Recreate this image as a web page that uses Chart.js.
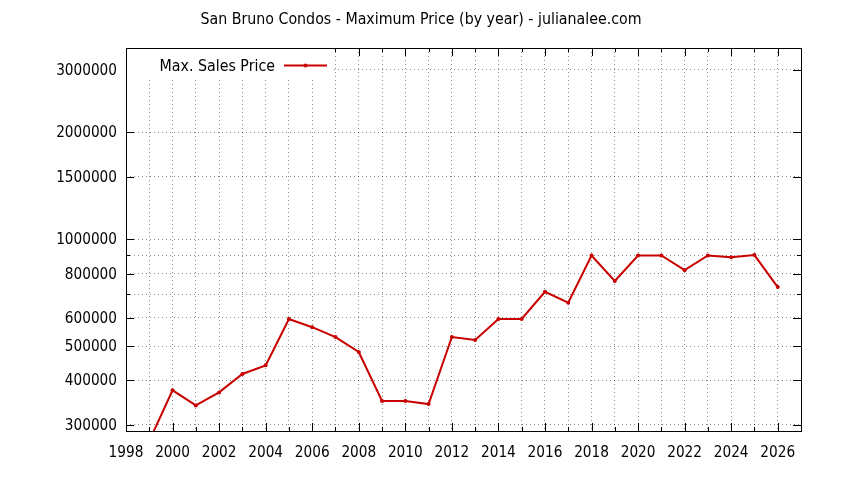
<!DOCTYPE html>
<html>
<head>
<meta charset="utf-8">
<title>San Bruno Condos - Maximum Price</title>
<script src="https://cdn.jsdelivr.net/npm/chart.js@4/dist/chart.umd.min.js"></script>
<style>
  html, body { margin: 0; padding: 0; background: #fff; }
  #wrap { width: 844px; height: 480px; position: relative; }
</style>
</head>
<body>
<div id="wrap"><canvas id="priceChart"></canvas></div>
<script>
// values
var years = [1999, 2000, 2001, 2002, 2003, 2004, 2005, 2006, 2007, 2008, 2009, 2010, 2011, 2012,
             2013, 2014, 2015, 2016, 2017, 2018, 2019, 2020, 2021, 2022, 2023, 2024, 2025, 2026];
var maxPrices = [270000, 375000, 340000, 370000, 417000, 441000, 596000, 565000, 530000, 481000,
                 350000, 350000, 343000, 530000, 520000, 596000, 596000, 711000, 662000, 900000,
                 763000, 900000, 900000, 818000, 900000, 890000, 902000, 733000];
var yTickValues = [300000, 400000, 500000, 600000, 700000, 800000, 900000, 1000000, 1500000, 2000000, 3000000];
var yTickLabels = ["300000", "400000", "500000", "600000", "", "800000", "", "1000000", "1500000", "2000000", "3000000"];

var chartTitle = "San Bruno Condos - Maximum Price (by year) - julianalee.com";
var seriesLabel = "Max. Sales Price";
var lineColor = "#c80000";
var fontName = "'DejaVu Sans Condensed', 'DejaVu Sans', sans-serif";
var tickSize = 15.2;
var textSize = 15.8;

Chart.defaults.font.family = fontName;
Chart.defaults.font.size = tickSize;
Chart.defaults.color = "#000";

// gnuplot style: frame, inward ticks, title and key inside the plot
var gnuplotLook = {
    id: "gnuplotLook",
    beforeDatasetsDraw: function (chart) {
        var ctx = chart.ctx;
        var a = chart.chartArea;
        var xs = chart.scales.x, ys = chart.scales.y;
        ctx.save();
        ctx.strokeStyle = "#000";
        ctx.lineWidth = 1;
        ctx.beginPath();
        xs.ticks.forEach(function (t) {
            var px = Math.round(xs.getPixelForValue(t.value)) + 0.5;
            var len = t.value % 2 === 0 ? 8 : 4;
            ctx.moveTo(px, a.bottom); ctx.lineTo(px, a.bottom - len);
            ctx.moveTo(px, a.top); ctx.lineTo(px, a.top + len);
        });
        ys.ticks.forEach(function (t, i) {
            var py = Math.round(ys.getPixelForValue(t.value)) + 0.5;
            var len = yTickLabels[i] ? 8 : 4;
            ctx.moveTo(a.left, py); ctx.lineTo(a.left + len, py);
            ctx.moveTo(a.right, py); ctx.lineTo(a.right - len, py);
        });
        ctx.stroke();
        ctx.strokeRect(Math.round(a.left) + 0.5, Math.round(a.top) + 0.5,
                       Math.round(a.right - a.left), Math.round(a.bottom - a.top));

        // opaque key box
        ctx.fillStyle = "#fff";
        ctx.fillRect(a.left + 1, a.top + 1, 206, 29);
        ctx.restore();
    },
    afterDraw: function (chart) {
        var ctx = chart.ctx;
        ctx.save();
        ctx.fillStyle = "#000";
        ctx.font = textSize + "px " + fontName;
        ctx.textBaseline = "middle";
        ctx.textAlign = "center";
        ctx.fillText(chartTitle, 421, 20);

        ctx.textAlign = "right";
        ctx.fillText(seriesLabel, 275, 66.5);
        ctx.strokeStyle = lineColor;
        ctx.lineWidth = 2;
        ctx.beginPath();
        ctx.moveTo(284, 65.5); ctx.lineTo(327, 65.5);
        ctx.stroke();
        ctx.fillStyle = lineColor;
        ctx.beginPath();
        ctx.arc(305.5, 65.5, 2, 0, Math.PI * 2);
        ctx.fill();
        ctx.restore();
    }
};

var ctx = document.getElementById("priceChart").getContext("2d");
var priceChart = new Chart(ctx, {
    type: "line",
    data: {
        datasets: [{
            label: seriesLabel,
            data: years.map(function (y, i) { return { x: y, y: maxPrices[i] }; }),
            borderColor: lineColor,
            backgroundColor: lineColor,
            borderWidth: 2,
            pointRadius: 2,
            pointHoverRadius: 2,
            pointBorderWidth: 0,
            tension: 0,
            fill: false
        }]
    },
    options: {
        responsive: true,
        maintainAspectRatio: false,
        animation: false,
        layout: { padding: { top: 48, right: 43, left: 0, bottom: 0 } },
        plugins: {
            legend: { display: false },
            title: { display: false },
            tooltip: { enabled: false }
        },
        scales: {
            x: {
                type: "linear",
                min: 1998,
                max: 2027,
                afterBuildTicks: function (scale) {
                    var t = [];
                    for (var y = 1998; y <= 2027; y++) t.push({ value: y });
                    scale.ticks = t;
                },
                afterFit: function (scale) { scale.height = 49; },
                ticks: {
                    autoSkip: false,
                    maxRotation: 0,
                    padding: 13,
                    callback: function (value) { return value % 2 === 0 && value < 2027 ? String(value) : ""; }
                },
                grid: {
                    drawTicks: false,
                    color: "rgba(0,0,0,0.45)"
                },
                border: { display: false, dash: [1, 3] }
            },
            y: {
                type: "logarithmic",
                min: 288000,
                max: 3460000,
                afterBuildTicks: function (scale) {
                    scale.ticks = yTickValues.map(function (v) { return { value: v }; });
                },
                afterFit: function (scale) { scale.width = 126; },
                ticks: {
                    autoSkip: false,
                    padding: 9,
                    labelOffset: 1,
                    callback: function (value, index) { return yTickLabels[index]; }
                },
                grid: {
                    drawTicks: false,
                    color: "rgba(0,0,0,0.45)"
                },
                border: { display: false, dash: [1, 3] }
            }
        }
    },
    plugins: [gnuplotLook]
});
</script>
</body>
</html>
